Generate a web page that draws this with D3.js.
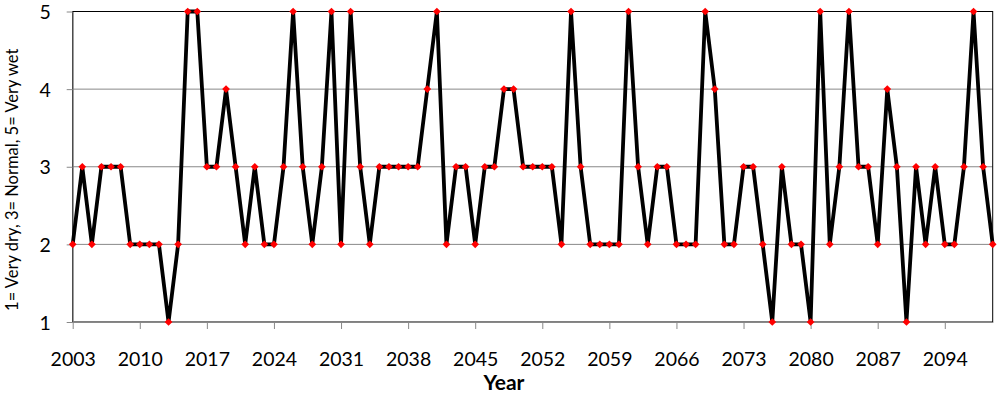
<!DOCTYPE html>
<html><head><meta charset="utf-8">
<script src="https://cdn.jsdelivr.net/npm/d3@7"></script>
<style>html,body{margin:0;padding:0;background:#fff;}svg{display:block;}</style>
</head><body><svg id="c" width="1000" height="396"></svg>
<script>
const startYear = 2003;
const values = [2,3,2,3,3,3,2,2,2,2,1,2,5,
  5,3,3,4,3,2,3,2,2,3,5,3,
  2,3,5,2,5,3,2,3,3,3,3,3,4,
  5,2,3,3,2,3,3,4,4,3,3,3,
  3,2,5,3,2,2,2,2,5,3,2,3,3,
  2,2,2,5,4,2,2,3,3,2,1,3,
  2,2,1,5,2,3,5,3,3,2,4,3,1,
  3,2,3,2,2,3,5,3,2];
const years = values.map((v,i)=>startYear+i);
const xTickLabels = [2003,2010,2017,2024,2031,2038,2045,2052,2059,2066,2073,2080,2087,2094];
const yTicks = [1,2,3,4,5];
const yTitle = "1= Very dry,  3= Normal, 5= Very wet";
const xTitle = "Year";

const svg = d3.select("#c");
const L = 72.7, R = 992.7, T = 11.5, B = 322;
const x = d3.scaleLinear().domain([years[0], years[years.length-1]]).range([L, R]);
const y = d3.scaleLinear().domain([1,5]).range([B, T]);
const font = "Lato, 'Open Sans', sans-serif";

// gridlines
svg.append("g").selectAll("line").data([2,3,4]).join("line")
  .attr("x1", L).attr("x2", R).attr("y1", d=>y(d)).attr("y2", d=>y(d))
  .attr("stroke", "#888").attr("stroke-width", 1);
// plot border
svg.append("rect").attr("x", L).attr("y", T).attr("width", R-L).attr("height", B-T)
  .attr("fill", "none").attr("stroke", "#000").attr("stroke-width", 1);

// x axis
const xAxis = d3.axisBottom(x).tickValues(xTickLabels).tickFormat(d3.format("d")).tickSize(7).tickSizeOuter(0);
const gx = svg.append("g").attr("transform", `translate(0,${B})`).call(xAxis);
gx.select(".domain").attr("stroke", "#888");
gx.selectAll(".tick line").attr("stroke", "#888");
gx.selectAll(".tick text").attr("font-family", font).attr("font-size", 19.5).attr("fill", "#000").attr("dy", 0).attr("y", 44);

// y axis
const yAxis = d3.axisLeft(y).tickValues(yTicks).tickFormat(d3.format("d")).tickSize(6).tickSizeOuter(0).tickPadding(16);
const gy = svg.append("g").attr("transform", `translate(${L},0)`).call(yAxis);
gy.select(".domain").attr("stroke", "#888");
gy.selectAll(".tick line").attr("stroke", "#888");
gy.selectAll(".tick text").attr("font-family", font).attr("font-size", 19.5).attr("fill", "#000").attr("dy", "0.36em");

// line
const line = d3.line().x((d,i)=>x(years[i])).y(d=>y(d));
svg.append("path").datum(values).attr("d", line).attr("fill", "none")
  .attr("stroke", "#000").attr("stroke-width", 3.8).attr("stroke-linejoin", "miter").attr("stroke-miterlimit", 4);

// markers
svg.append("g").selectAll("path").data(values).join("path")
  .attr("d", d3.symbol().type(d3.symbolSquare).size(30))
  .attr("transform", (d,i)=>`translate(${x(years[i])},${y(d)}) rotate(45)`)
  .attr("fill", "#ff0000");

// titles
svg.append("text").attr("x", 504).attr("y", 390).attr("text-anchor", "middle")
  .attr("font-family", font).attr("font-weight", "bold").attr("font-size", 21).text(xTitle);
svg.append("text").attr("transform", `translate(18,${(T+B)/2+13}) rotate(-90)`).attr("text-anchor", "middle")
  .attr("font-family", font).attr("font-size", 16.5).text(yTitle);
</script></body></html>
